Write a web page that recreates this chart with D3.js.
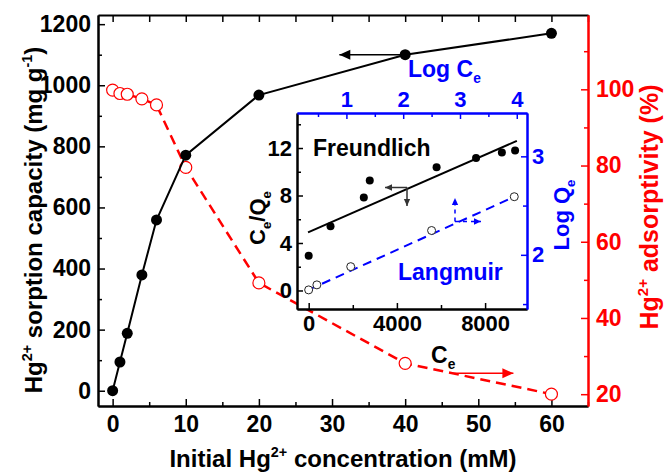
<!DOCTYPE html>
<html>
<head>
<meta charset="utf-8">
<script src="https://cdn.jsdelivr.net/npm/d3@7"></script>
<style>
  body { margin: 0; background: #fff; }
  svg text { font-family: "Liberation Sans", Arial, sans-serif; font-weight: bold; }
</style>
</head>
<body>
<div id="chart"></div>
<script>
// main chart data
const conc = [0, 1, 2, 4, 6, 10, 20, 40, 60];
const capacity = [0, 94, 188, 379, 559, 771, 968, 1100, 1170];
const adsorptivity = [99.8, 98.9, 98.7, 97.5, 95.9, 79.5, 49.2, 28.1, 20.0];

// inset data
const ce = [0, 990, 2500, 2770, 5800, 7590, 8760, 9360];
const ceQe = [2.93, 5.4, 7.84, 9.27, 10.37, 11.16, 11.63, 11.8];
const blackFit = [[-30, 4.9], [9440, 12.6]];
const logCe = [0.335, 0.48, 1.076, 2.5, 3.956];
const logQe = [1.644, 1.695, 1.88, 2.247, 2.59];
const blueFit = [[0.33, 1.644], [3.96, 2.59]];

const xTicks = [0, 10, 20, 30, 40, 50, 60];
const yLTicks = [0, 200, 400, 600, 800, 1000, 1200];
const yRTicks = [20, 40, 60, 80, 100];
const ixTicks = [0, 4000, 8000];
const iyTicks = [0, 4, 8, 12];
const itTicks = [1, 2, 3, 4];
const irTicks = [2, 3];

const RED = '#ff0000', BLUE = '#0000ff';
const fmt = d3.format('d');

const svg = d3.select('#chart').append('svg')
  .attr('width', 664).attr('height', 472);

const x = d3.scaleLinear().domain([-2, 65]).range([98, 588]);
const yL = d3.scaleLinear().domain([-50, 1230]).range([406, 15]);
const yR = d3.scaleLinear().domain([16.9, 119.5]).range([406, 15]);

const ix = d3.scaleLinear().domain([-530, 9900]).range([297, 527]);
const iy = d3.scaleLinear().domain([-1.56, 14.95]).range([309, 113]);
const itx = d3.scaleLinear().domain([0.13, 4.18]).range([297, 527]);
const iry = d3.scaleLinear().domain([1.45, 3.44]).range([309, 113]);

function styleAxis(g, color, size) {
  g.select('.domain').attr('stroke', color).attr('stroke-width', 2);
  g.selectAll('.tick line').attr('stroke', color).attr('stroke-width', 1.5);
  g.selectAll('.tick text').attr('fill', color).style('font-size', size + 'px');
}

function addAxis(axis, tr, color, size) {
  const g = svg.append('g').attr('transform', tr).call(axis);
  styleAxis(g, color, size);
  return g;
}

// ---- main axes (inward ticks) ----
const range5 = d3.range(0, 66, 5);
addAxis(d3.axisBottom(x).tickValues(range5.filter(v => v % 10)).tickSize(-4).tickSizeOuter(0).tickFormat(''), 'translate(0,406)', '#000', 23);
addAxis(d3.axisBottom(x).tickValues(xTicks).tickSize(-7).tickSizeOuter(0).tickPadding(10).tickFormat(fmt), 'translate(0,406)', '#000', 23);
addAxis(d3.axisTop(x).tickValues(range5).tickSize(-7).tickSizeOuter(0).tickFormat(''), 'translate(0,15)', '#000', 23);

addAxis(d3.axisLeft(yL).tickValues(d3.range(100, 1230, 200)).tickSize(-4).tickSizeOuter(0).tickFormat(''), 'translate(98,0)', '#000', 23);
addAxis(d3.axisLeft(yL).tickValues(yLTicks).tickSize(-7).tickSizeOuter(0).tickPadding(7).tickFormat(fmt), 'translate(98,0)', '#000', 23);

addAxis(d3.axisRight(yR).tickValues(d3.range(30, 120, 20)).tickSize(-4).tickSizeOuter(0).tickFormat(''), 'translate(588,0)', RED, 23);
addAxis(d3.axisRight(yR).tickValues(yRTicks).tickSize(-7).tickSizeOuter(0).tickPadding(8).tickFormat(fmt), 'translate(588,0)', RED, 23);

// ---- main series ----
const redLine = d3.line().x((d, i) => x(conc[i])).y(d => yR(d));
svg.append('path').datum(adsorptivity)
  .attr('d', redLine).attr('fill', 'none').attr('stroke', RED)
  .attr('stroke-width', 2.5).attr('stroke-dasharray', '10,6');
svg.selectAll('.red-pt').data(adsorptivity).enter().append('circle')
  .attr('cx', (d, i) => x(conc[i])).attr('cy', d => yR(d)).attr('r', 6)
  .attr('fill', '#fff').attr('stroke', RED).attr('stroke-width', 1.2);

const blackLine = d3.line().x((d, i) => x(conc[i])).y(d => yL(d));
svg.append('path').datum(capacity)
  .attr('d', blackLine).attr('fill', 'none').attr('stroke', '#000').attr('stroke-width', 2);
svg.selectAll('.blk-pt').data(capacity).enter().append('circle')
  .attr('cx', (d, i) => x(conc[i])).attr('cy', d => yL(d)).attr('r', 5.5).attr('fill', '#000');

// arrows
function arrow(x1, y1, x2, y2, color, dash, w, head) {
  svg.append('line').attr('x1', x1).attr('y1', y1).attr('x2', x2).attr('y2', y2)
    .attr('stroke', color).attr('stroke-width', w).attr('stroke-dasharray', dash || null);
  const a = Math.atan2(y2 - y1, x2 - x1), L = head, W = head * 0.45;
  const p = [[x2, y2],
    [x2 - L * Math.cos(a) + W * Math.sin(a), y2 - L * Math.sin(a) - W * Math.cos(a)],
    [x2 - L * Math.cos(a) - W * Math.sin(a), y2 - L * Math.sin(a) + W * Math.cos(a)]];
  svg.append('polygon').attr('points', p.map(q => q.join(',')).join(' ')).attr('fill', color);
}
arrow(x(39.3), yL(1100), x(31), yL(1100), '#000', null, 1.5, 11);
arrow(x(46.5), yR(25.5), x(54.8), yR(25.5), RED, null, 1.5, 11);

// ---- inset ----
svg.append('rect').attr('x', 297).attr('y', 113).attr('width', 230).attr('height', 196).attr('fill', '#fff');

addAxis(d3.axisBottom(ix).tickValues([2000, 6000]).tickSize(-4).tickSizeOuter(0).tickFormat(''), 'translate(0,309)', '#000', 22);
addAxis(d3.axisBottom(ix).tickValues(ixTicks).tickSize(-6).tickSizeOuter(0).tickPadding(6).tickFormat(fmt), 'translate(0,309)', '#000', 22);
addAxis(d3.axisLeft(iy).tickValues([2, 6, 10, 14]).tickSize(-4).tickSizeOuter(0).tickFormat(''), 'translate(297,0)', '#000', 22);
addAxis(d3.axisLeft(iy).tickValues(iyTicks).tickSize(-6).tickSizeOuter(0).tickPadding(5).tickFormat(fmt), 'translate(297,0)', '#000', 22);
addAxis(d3.axisTop(itx).tickValues([0.5, 1.5, 2.5, 3.5]).tickSize(-4).tickSizeOuter(0).tickFormat(''), 'translate(0,113)', BLUE, 22);
addAxis(d3.axisTop(itx).tickValues(itTicks).tickSize(-6).tickSizeOuter(0).tickPadding(6).tickFormat(fmt), 'translate(0,113)', BLUE, 22);
addAxis(d3.axisRight(iry).tickValues([1.5, 2.5]).tickSize(-4).tickSizeOuter(0).tickFormat(''), 'translate(527,0)', BLUE, 22);
addAxis(d3.axisRight(iry).tickValues(irTicks).tickSize(-6).tickSizeOuter(0).tickPadding(5).tickFormat(fmt), 'translate(527,0)', BLUE, 22);

// inset series
svg.append('path').datum(blueFit)
  .attr('d', d3.line().x(d => itx(d[0])).y(d => iry(d[1])))
  .attr('fill', 'none').attr('stroke', BLUE).attr('stroke-width', 2).attr('stroke-dasharray', '9,6');
svg.selectAll('.ob-pt').data(logQe).enter().append('circle')
  .attr('cx', (d, i) => itx(logCe[i])).attr('cy', d => iry(d)).attr('r', 4)
  .attr('fill', '#fff').attr('stroke', '#222').attr('stroke-width', 1);

svg.append('path').datum(blackFit)
  .attr('d', d3.line().x(d => ix(d[0])).y(d => iy(d[1])))
  .attr('fill', 'none').attr('stroke', '#000').attr('stroke-width', 2);
svg.selectAll('.ib-pt').data(ceQe).enter().append('circle')
  .attr('cx', (d, i) => ix(ce[i])).attr('cy', d => iy(d)).attr('r', 4).attr('fill', '#000');

// inset arrows
arrow(407, 187.5, 385, 187.5, '#333', null, 1.5, 7);
arrow(407, 187.5, 407, 206, '#333', null, 1.5, 7);
arrow(455, 221.5, 455, 198, BLUE, '4,4', 1.5, 7);
arrow(455, 221.5, 481, 221.5, BLUE, '4,4', 1.5, 7);

// ---- texts ----
function label(parts, tx, ty, rot, color, size, anchor) {
  const t = svg.append('text')
    .attr('transform', `translate(${tx},${ty}) rotate(${rot})`)
    .attr('text-anchor', anchor || 'middle').attr('fill', color).style('font-size', size + 'px');
  let cur = 0;
  parts.forEach(p => {
    const target = p.sup ? -0.42 * size : p.sub ? 0.28 * size : 0;
    const s = t.append('tspan').text(p.t).attr('dy', target - cur);
    cur = target;
    if (p.sup || p.sub) s.style('font-size', (size * 0.6) + 'px');
  });
  return t;
}

label([{t: 'Initial Hg'}, {t: '2+', sup: 1}, {t: ' concentration (mM)'}], 343, 467, 0, '#000', 24);
label([{t: 'Hg'}, {t: '2+', sup: 1}, {t: ' sorption capacity (mg g'}, {t: '-1', sup: 1}, {t: ')'}], 42, 220, -90, '#000', 24);
label([{t: 'Hg'}, {t: '2+', sup: 1}, {t: ' adsorptivity (%)'}], 658, 207, -90, RED, 25);

label([{t: 'Log C'}, {t: 'e', sub: 1}], 408, 77, 0, BLUE, 23, 'start');
label([{t: 'C'}, {t: 'e', sub: 1}], 431, 363, 0, '#000', 23, 'start');
label([{t: 'C'}, {t: 'e', sub: 1}, {t: '/Q'}, {t: 'e', sub: 1}], 265, 218, -90, '#000', 22);
label([{t: 'Log Q'}, {t: 'e', sub: 1}], 569, 215, -90, BLUE, 22);
label([{t: 'Freundlich'}], 313, 156, 0, '#000', 23, 'start');
label([{t: 'Langmuir'}], 398, 280, 0, BLUE, 23, 'start');
</script>
</body>
</html>
